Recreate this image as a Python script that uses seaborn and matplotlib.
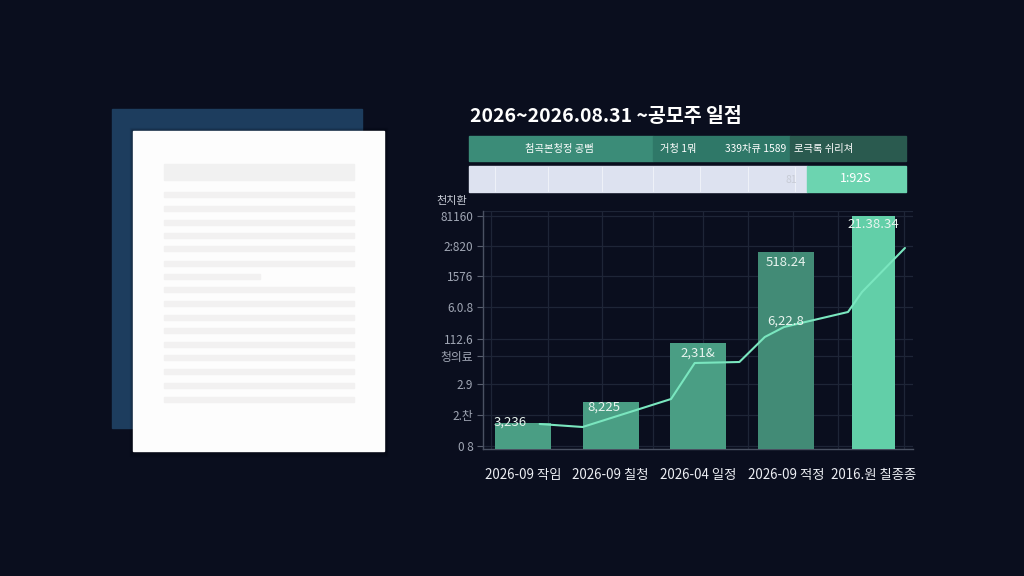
import matplotlib
matplotlib.use("Agg")
import matplotlib.pyplot as plt
from matplotlib.patches import Rectangle
import seaborn as sns
import pandas as pd

# ---------------- data ----------------
title = "2026~2026.08.31 ~공모주 일점"
categories = ["2026-09 작임", "2026-09 칠청", "2026-04 일정", "2026-09 적정", "2016.원 칠종종"]
bar_values = [26, 47, 106, 197, 233]
bar_labels = ["3,236", "8,225", "2,31&", "518.24", "21.38.34"]
line_x = [0.19, 0.68, 1.69, 1.96, 2.47, 2.76, 2.98, 3.71, 3.87, 4.36]
line_y = [25, 22, 50, 86, 87, 112, 122, 137, 157, 201]
line_label = "6,22.8"
ytick_vals = [3, 34, 65, 93, 110, 142, 173, 203, 233]
ytick_labels = ["0 8", "2.찬", "2.9", "청의료", "112.6", "6.0.8", "1576", "2:820", "81160"]
ylabel = "천치환"
header_labels = ["첨곡본청정 공뻠", "거청 1뭐", "339차큐 1589", "로극록 쉬리쳐"]
progress_labels = ["81", "1:92S"]

# ---------------- style ----------------
BG = "#0a0e1e"
sns.set_theme(style="dark")
KR = ["Noto Sans CJK KR", "DejaVu Sans"]
plt.rcParams["font.family"] = KR

fig = plt.figure(figsize=(10.24, 5.76), dpi=100, facecolor=BG)

# background / decoration axes in pixel coordinates
bg = fig.add_axes([0, 0, 1, 1], zorder=0)
bg.set_xlim(0, 1024)
bg.set_ylim(576, 0)
bg.axis("off")
bg.add_patch(Rectangle((0, 0), 1024, 576, color=BG, zorder=0))

# document illustration
bg.add_patch(Rectangle((112, 109), 250, 319, color="#1d3d5e", zorder=1))
for i, a in enumerate([0.10, 0.07, 0.04]):
    bg.add_patch(Rectangle((133 - 1 - i, 131 - 1 - i), 251 + 2 * (i + 1), 320 + 2 * (i + 1) + i,
                           color="black", alpha=a, zorder=1.5))
bg.add_patch(Rectangle((133, 131), 251, 320, color="#fdfdfd", zorder=2))
bg.add_patch(Rectangle((164, 164), 190, 16, color="#f1f1f1", zorder=3))
doc_lines = [194, 208, 222, 235, 248, 263, 276, 289, 303, 317, 330, 344, 357, 371, 385, 399]
for k, yy in enumerate(doc_lines):
    w = 96 if k == 6 else 190
    bg.add_patch(Rectangle((164, yy - 2.5), w, 5, color="#f2f1f1", zorder=3))

# title
bg.text(470, 116, title, color="white", fontsize=14, fontweight="bold",
        va="center", ha="left", zorder=5)

# header bar
seg = [(469, 653, "#3b8c78"), (653, 790, "#2f7868"), (790, 906, "#2a5a4f")]
for x0, x1, c in seg:
    bg.add_patch(Rectangle((x0, 136), x1 - x0, 25, color=c, zorder=3))
hx = [559, 678, 756, 824]
for x, t in zip(hx, header_labels):
    bg.text(x, 149, t, color="white", fontsize=7.4, ha="center", va="center", zorder=5)

# progress bar
bg.add_patch(Rectangle((469, 166), 338, 26, color="#dde2f0", zorder=3))
bg.add_patch(Rectangle((807, 166), 99, 26, color="#6cd4b0", zorder=3))
for xx in [495, 548, 602, 653, 700, 748, 795]:
    bg.plot([xx, xx], [167, 191], color="#eef1f8", lw=0.8, zorder=4)
bg.text(791, 180, progress_labels[0], color="#c8ccd6", fontsize=7.5, ha="center", va="center", zorder=5)
bg.text(856, 178, progress_labels[1], color="white", fontsize=9, ha="center", va="center", zorder=5)

# y label
bg.text(452, 201, ylabel, color="#c8ccd6", fontsize=8, ha="center", va="center", zorder=5)

# ---------------- chart ----------------
ax = fig.add_axes([483 / 1024, (576 - 449) / 576, 430 / 1024, 238 / 576], zorder=2)
ax.set_facecolor("none")

df = pd.DataFrame({"cat": categories, "val": bar_values})
bar_colors = ["#4a9e84", "#4a9e84", "#4a9e84", "#428b76", "#62cfa8"]
sns.barplot(data=df, x="cat", y="val", hue="cat", palette=bar_colors, legend=False,
            width=0.64, ax=ax, saturation=1, linewidth=0, edgecolor="none")
for p in ax.patches:
    p.set_zorder(3)
# narrower last bar
p = ax.patches[-1]
cx = p.get_x() + p.get_width() / 2
p.set_width(0.49)
p.set_x(cx - 0.245)

sns.lineplot(x=line_x, y=line_y, ax=ax, color="#7ae6bf", lw=1.5)
ax.lines[-1].set_zorder(5)

ax.set_xlim(-0.457, 4.452)
ax.set_ylim(0, 238)

# value labels
offs = [-1, 5, 10, 10, 9]
dx = [-0.15, -0.08, 0.0, 0.0, 0.0]
for i, (v, t) in enumerate(zip(bar_values, bar_labels)):
    ax.text(i + dx[i], v - offs[i], t, color="#e8f4ef", fontsize=9.5, ha="center", va="center",
            zorder=6)
ax.text(3.0, line_y[6] + 6, line_label, color="#e8f4ef", fontsize=9.5, ha="center", va="center",
        zorder=6)

# axes styling
ax.set_xlabel("")
ax.set_ylabel("")
ax.set_yticks(ytick_vals, ytick_labels)
ax.tick_params(axis="y", colors="#5a6070", labelcolor="#a0a6b4", labelsize=8.5, length=4, width=0.8,
               left=True, pad=3)
ax.set_xticks(range(len(categories)), categories)
ax.tick_params(axis="x", length=0, labelcolor="#eceef3", labelsize=9.6, pad=14)
ax.set_xticks([-0.36, 0.28, 0.9, 1.48, 2.05, 2.57, 3.08, 3.60, 4.35], minor=True)
ax.grid(False)
ax.grid(axis="y", which="major", color="#1e2537", lw=0.9, zorder=0)
ax.grid(axis="x", which="minor", color="#1e2537", lw=0.9, zorder=0)
ax.tick_params(axis="x", which="minor", length=0)
for s in ["top", "right"]:
    ax.spines[s].set_visible(False)
for s in ["left", "bottom"]:
    ax.spines[s].set_color("#4a5162")
    ax.spines[s].set_linewidth(1.0)
ax.axhline(238, color="#1e2537", lw=0.9, zorder=0)

fig.savefig("out.png", dpi=100, facecolor=BG)
